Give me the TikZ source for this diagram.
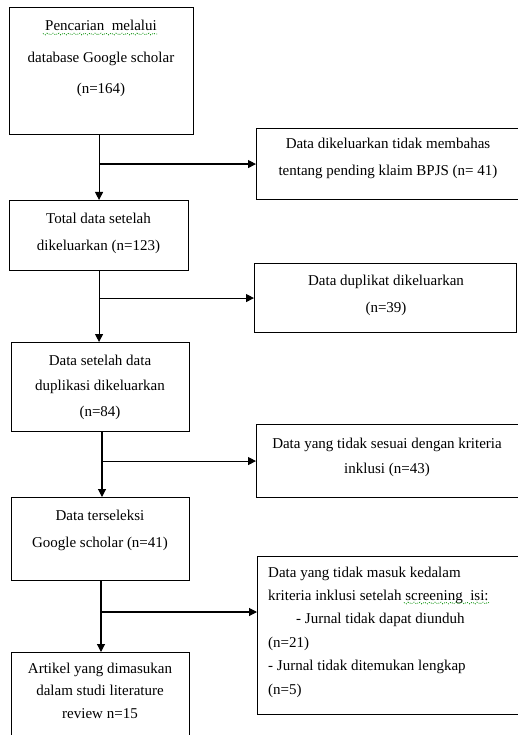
\documentclass[tikz,border=0pt]{standalone}
\usepackage{fontspec}
\setmainfont{Liberation Serif}
\usetikzlibrary{arrows.meta,decorations.pathmorphing}
\begin{document}
\begin{tikzpicture}[x=1pt,y=-1pt,
  box/.style={draw, line width=1.1pt, inner sep=0pt, anchor=north west},
  txt/.style={inner sep=0pt, align=center, anchor=base},
  ltxt/.style={inner sep=0pt, align=left, anchor=base west},
  arr/.style={-{Triangle[length=8pt,width=8pt]}, line width=1.1pt},
  squig/.style={draw=green!55!black, dotted, line width=0.8pt, decorate,
    decoration={snake, amplitude=0.8pt, segment length=3pt}}]
\useasboundingbox (0,0) rectangle (518,735);
% left column boxes
\node[box, minimum width=184pt, minimum height=127pt] (b1) at (9,7) {};
\node[box, minimum width=179pt, minimum height=70pt] (b2) at (9,200) {};
\node[box, minimum width=178pt, minimum height=89pt] (b3) at (11,342) {};
\node[box, minimum width=178pt, minimum height=83pt] (b4) at (11,497) {};
\node[box, minimum width=178pt, minimum height=100pt] (b5) at (11,652) {};
% right column boxes
\node[box, minimum width=270pt, minimum height=71pt] (r1) at (256,128) {};
\node[box, minimum width=262pt, minimum height=69pt] (r2) at (254,263) {};
\node[box, minimum width=270pt, minimum height=73pt] (r3) at (256,424) {};
\node[box, minimum width=270pt, minimum height=158pt] (r4) at (257,556) {};
% texts (anchor = baseline of the last line)
\node[txt, font=\fontsize{15}{31.5}\selectfont] (t1) at (101,94)
  {Pencarian\ \ melalui\\database Google scholar\\(n=164)};
\node[txt, font=\fontsize{15}{27}\selectfont] (tr1) at (388,176)
  {Data dikeluarkan tidak membahas\\tentang pending klaim BPJS (n= 41)};
\node[txt, font=\fontsize{15}{27}\selectfont] (t2) at (98.5,250)
  {Total data setelah\\dikeluarkan (n=123)};
\node[txt, font=\fontsize{15}{27}\selectfont] (tr2) at (386,312)
  {Data duplikat dikeluarkan\\(n=39)};
\node[txt, font=\fontsize{15}{25.5}\selectfont] (t3) at (100,416)
  {Data setelah data\\duplikasi dikeluarkan\\(n=84)};
\node[txt, font=\fontsize{15}{25}\selectfont] (tr3) at (387,473)
  {Data yang tidak sesuai dengan kriteria\\inklusi (n=43)};
\node[txt, font=\fontsize{15}{27}\selectfont] (t4) at (100,547)
  {Data terseleksi\\Google scholar (n=41)};
\node[ltxt, font=\fontsize{15}{23.4}\selectfont] (tr4) at (268,694)
  {Data yang tidak masuk kedalam\\kriteria inklusi setelah screening\ \ isi:\\\hspace*{28pt}- Jurnal tidak dapat diunduh\\(n=21)\\- Jurnal tidak ditemukan lengkap\\(n=5)};
\node[txt, font=\fontsize{15}{22.5}\selectfont] (t5) at (100,718)
  {Artikel yang dimasukan\\dalam studi literature\\review n=15};
% spell-check squiggles
\draw[squig] (43,34) -- (157,34);
\draw[squig] (404,603) -- (490,603);
% connectors
\draw[arr] (b1.south -| b2.north) -- (b2.north);
\draw[arr] (r1.west -| b2.north) -- (r1.west);
\draw[arr] (b2.south) -- (b2.south |- b3.north);
\draw[arr] (r2.west -| b2.south) -- (r2.west);
\coordinate (j3) at (102,431);
\draw[arr] (j3) -- (j3 |- b4.north);
\draw[arr] (j3 |- r3.west) -- (r3.west);
\coordinate (j4) at (101,580);
\coordinate (k4) at (101,612);
\draw[arr] (j4) -- (j4 |- b5.north);
\draw[arr] (k4) -- (k4 -| r4.west);
\end{tikzpicture}
\end{document}
